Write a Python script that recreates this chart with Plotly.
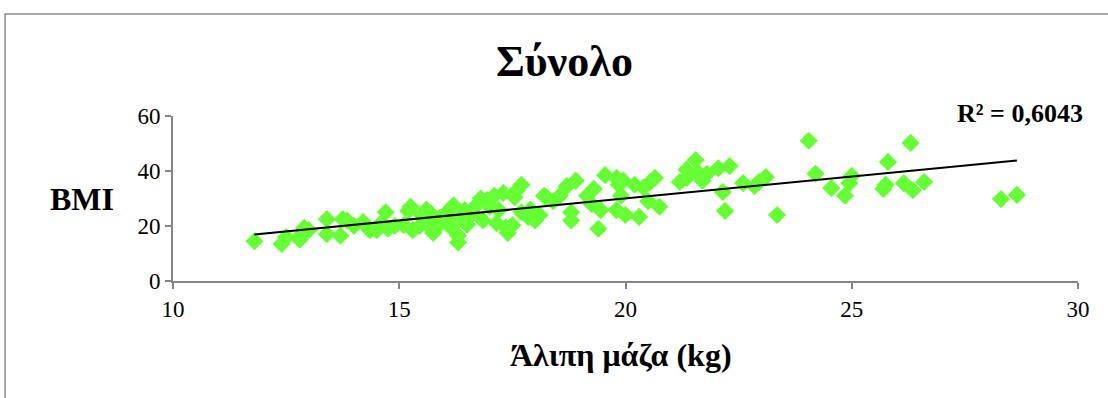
import numpy as np
import plotly.graph_objects as go

lean_mass = [11.8, 12.4, 12.5, 12.8, 12.85, 12.9, 13.4, 13.4, 13.7, 13.75, 13.85, 14.2, 14.35, 14.5,
             14.7, 14.75, 14.9, 15.1, 15.2, 15.3, 15.45, 15.5, 15.6, 15.7, 15.75, 15.8, 15.9, 16.0,
             16.1, 16.15, 16.3, 16.3, 16.35, 16.45, 16.5, 16.6, 16.7, 16.85, 16.95, 17.1, 17.2, 17.3,
             17.35, 17.4, 17.5, 17.55, 17.7, 17.7, 17.85, 18.0, 18.1, 18.2, 18.25, 18.55, 18.7, 18.8,
             18.8, 18.9, 19.15, 19.4, 19.45, 19.55, 19.8, 19.8, 19.85, 19.9, 19.95, 20.0, 20.3, 20.4,
             20.55, 20.65, 20.75, 21.2, 21.35, 21.35, 21.55, 21.6, 21.7, 21.8, 22.05, 22.15, 22.2,
             22.3, 22.6, 22.85, 22.95, 23.1, 23.35, 24.05, 24.2, 24.55, 24.85, 24.95, 25.0, 25.7,
             25.75, 25.8, 26.15, 26.3, 26.35, 26.6, 28.3, 28.65,
             15.25, 15.6, 15.8, 16.05, 16.2, 16.4, 16.8, 17.0, 17.15, 17.6, 17.9, 18.4, 19.25, 19.3,
             20.2, 20.5, 13.0, 14.0, 14.6]
bmi = [14.5, 13.5, 16.0, 15.0, 17.0, 19.3, 22.5, 17.0, 16.5, 22.5, 22.0, 21.5, 18.5, 18.5,
       25.0, 19.0, 20.0, 20.3, 25.5, 18.5, 20.0, 24.0, 26.0, 24.5, 17.5, 19.0, 23.0, 23.0,
       25.8, 19.5, 14.0, 16.5, 23.0, 25.8, 20.5, 24.0, 27.5, 22.0, 29.5, 31.0, 25.8, 32.0,
       19.5, 17.5, 20.3, 30.5, 35.0, 25.0, 23.3, 22.0, 24.0, 31.0, 30.5, 31.0, 34.5, 25.0,
       22.0, 36.5, 31.0, 19.0, 25.8, 38.5, 37.5, 25.8, 35.0, 31.0, 36.5, 24.0, 23.3, 34.0,
       36.0, 37.5, 27.0, 36.0, 37.5, 40.5, 44.0, 39.5, 36.5, 39.0, 41.0, 32.4, 25.5,
       41.8, 35.6, 34.5, 36.0, 37.8, 24.0, 51.0, 39.0, 33.8, 31.0, 35.6, 38.2, 33.5,
       35.0, 43.3, 35.6, 50.2, 33.0, 36.0, 29.8, 31.3,
       27.0, 21.0, 22.5, 21.0, 27.5, 22.0, 30.0, 27.0, 21.0, 33.0, 26.0, 29.0, 28.0, 33.5,
       35.0, 29.0, 18.5, 20.0, 21.0]
r2_label = "R² = 0,6043"

x = np.array(lean_mass)
y = np.array(bmi)
slope, intercept = np.polyfit(x, y, 1)
xl = np.array([x.min(), x.max()])
yl = slope * xl + intercept

fig = go.Figure()
fig.add_trace(go.Scatter(x=x, y=y, mode="markers",
                         marker=dict(symbol="diamond", size=14, color="#66ff33"),
                         showlegend=False, hoverinfo="skip"))
fig.add_trace(go.Scatter(x=xl, y=yl, mode="lines", line=dict(color="black", width=2),
                         showlegend=False, hoverinfo="skip"))

font = "Liberation Serif, Times New Roman, serif"
axis_common = dict(showgrid=False, zeroline=False, showline=True, linecolor="#868686",
                   linewidth=2, ticks="outside", tickcolor="#868686", tickwidth=2, ticklen=6,
                   tickfont=dict(family=font, size=23, color="black"))
fig.update_xaxes(range=[10, 30], tick0=10, dtick=5, **axis_common)
fig.update_yaxes(range=[0, 60], tick0=0, dtick=20, **axis_common)

fig.update_layout(
    width=1108, height=398,
    margin=dict(l=173, r=30, t=116, b=117),
    paper_bgcolor="white", plot_bgcolor="white",
    shapes=[dict(type="rect", xref="paper", yref="paper", x0=-0.1856, x1=1.1, y0=-0.8, y1=1.618,
                 line=dict(color="#8a8a8a", width=1.5), layer="below")],
    annotations=[
        dict(text="<b>Σύνολο</b>", xref="paper", yref="paper", x=0.433, y=1.33, showarrow=False,
             font=dict(family=font, size=44, color="black"), xanchor="center", yanchor="middle"),
        dict(text="<b>BMI</b>", xref="paper", yref="paper", x=-0.1006, y=0.497, showarrow=False,
             font=dict(family=font, size=32, color="black"), xanchor="center", yanchor="middle"),
        dict(text="<b>Άλιπη μάζα (kg)</b>", xref="paper", yref="paper", x=0.495, y=-0.448,
             showarrow=False, font=dict(family=font, size=32, color="black"),
             xanchor="center", yanchor="middle"),
        dict(text="<b>" + r2_label + "</b>", xref="paper", yref="paper", x=0.936, y=1.018,
             showarrow=False, font=dict(family=font, size=26, color="black"),
             xanchor="center", yanchor="middle"),
    ],
)
fig.write_html("out.html", config={"displayModeBar": False},
               post_script="document.body.style.margin='0';")
